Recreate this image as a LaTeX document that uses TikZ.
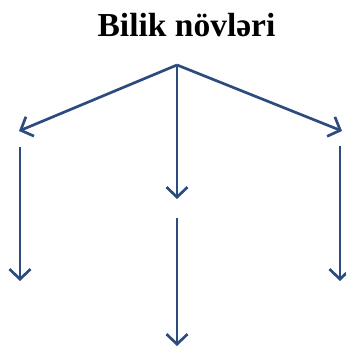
\documentclass[tikz,border=0pt]{standalone}
\usepackage{fontspec}
\setmainfont{Liberation Serif}
\usetikzlibrary{arrows.meta}
\definecolor{arr}{HTML}{2C4C80}
\begin{document}
\begin{tikzpicture}[x=1pt,y=-1pt,
  conn/.style={draw=arr,line width=2.7pt,-{Straight Barb[length=10pt,width=21pt,line width=2.7pt]}},
  title/.style={font=\bfseries\fontsize{33.5}{36}\selectfont,inner sep=0pt,anchor=base}]
\useasboundingbox (0,0) rectangle (345,347);
\node[title] (t) at (186.5,37) {Bilik növləri};
\coordinate (top) at (177,65);
\coordinate (l1) at (19,131);
\coordinate (m1) at (177,199);
\coordinate (r1) at (342,131);
\coordinate (l2s) at (20,147);
\coordinate (l2e) at (20,281);
\coordinate (m2s) at (177,218);
\coordinate (m2e) at (177,346);
\coordinate (r2s) at (340,146);
\coordinate (r2e) at (340,281);
\draw[conn] (top) -- (l1);
\draw[conn] (top) -- (m1);
\draw[conn] (top) -- (r1);
\draw[conn] (l2s) -- (l2e);
\draw[conn] (m2s) -- (m2e);
\draw[conn] (r2s) -- (r2e);
\end{tikzpicture}
\end{document}
